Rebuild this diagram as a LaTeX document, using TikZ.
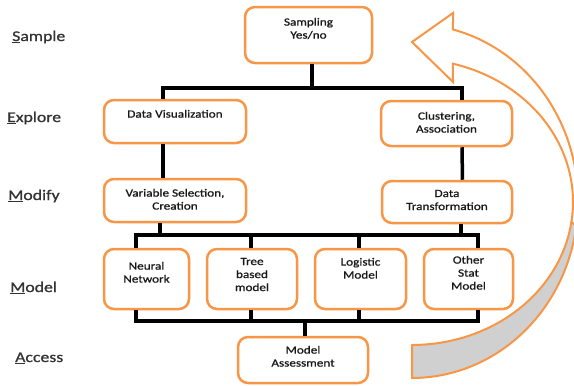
\documentclass[tikz,border=0pt]{standalone}
\usepackage{fontspec}
\setmainfont{Carlito}[FakeStretch=1.2]
\newfontfamily\stepfont{Carlito}[FakeStretch=1.2, FakeBold=0.9]
\usepackage{tikz}
\usetikzlibrary{positioning}
\usetikzlibrary{calc}
\definecolor{semmaorange}{RGB}{247,150,70}
\definecolor{semmagray}{RGB}{208,208,208}
\tikzset{
    stepbox/.style={draw=semmaorange, line width=2.5pt, rounded corners=10pt, fill=white},
    steptext/.style={font=\stepfont\fontsize{11}{13}\selectfont, text=black!90, align=center, inner sep=0pt},
    stage/.style={font=\stepfont\fontsize{14.8}{17}\selectfont, text=black!80, anchor=base west, inner sep=0pt},
    link/.style={line width=3.5pt, black},
}

\begin{document}
\begin{tikzpicture}[x=1pt, y=-1pt]

        \useasboundingbox (0,0) rectangle (574,386);
        \clip (0,0) rectangle (574,386);

        % Return arrow, back side
        \filldraw[fill=semmagray, draw=semmaorange, line width=2pt, line join=round]
            plot[domain=-8:-90, samples=40] ({412+161*cos(\x)}, {202-143*sin(\x)})
            -- plot[domain=-90:-8, samples=40] ({412+166*cos(\x)}, {201-177*sin(\x)}) -- cycle;

        % Return arrow, front side
        \filldraw[fill=white, draw=semmaorange, line width=2pt]
            (412,42) -- (453,13)
            -- plot[domain=75.7:-8, samples=50] ({412+166*cos(\x)}, {201-177*sin(\x)})
            -- plot[domain=-8:75.25, samples=50] ({412+161*cos(\x)}, {202-143*sin(\x)})
            -- (453,82) -- cycle;

        % Stages
        \foreach \i/\x/\y/\first/\rest in {1/12/41/S/ample, 2/7/122/E/xplore, 3/8/200/M/odify, 4/10/292/M/odel, 5/15/362/A/ccess}
        {
            \node[stage] (Stage-\i) at (\x,\y) {\underline{\first}\rest};
        }

        % Sample
        \node[stepbox, minimum width=127pt, minimum height=56pt] (Sampling) at (308.5,35) {};
        \node[steptext, below=12pt of Sampling.north] (Sampling-txt) {Sampling\\Yes/no};

        % Explore
        \node[stepbox, minimum width=142pt, minimum height=43pt] (Visual) at (175,121.5) {};
        \node[steptext, below=11pt of Visual.north] (Visual-txt) {Data Visualization};
        \node[stepbox, minimum width=131pt, minimum height=45pt] (Cluster) at (446.5,123.5) {};
        \node[steptext, below=12pt of Cluster.north] (Cluster-txt) {Clustering,\\Association};

        % Modify
        \node[stepbox, minimum width=142pt, minimum height=43pt] (Select) at (175,200.5) {};
        \node[steptext, below=11pt of Select.north] (Select-txt) {Variable Selection,\\Creation};
        \node[stepbox, minimum width=130pt, minimum height=42pt] (Transf) at (447,202) {};
        \node[steptext, below=10pt of Transf.north] (Transf-txt) {Data\\Transformation};

        % Model
        \foreach \i/\x/\w/\d/\off/\txt in {1/146.5/85/136/14/{Neural\\Network}, 2/252/90/251/10/{Tree\\based\\model}, 3/360.5/91/359/10/{Logistic\\Model}, 4/468.5/89/478/8/{Other\\Stat\\Model}}
        {
            \node[stepbox, minimum width=\w pt, minimum height=60pt] (Model-\i) at (\x,279) {};
            \node[steptext, below=\off pt of Model-\i.north] (Model-\i-txt) {\txt};
            \coordinate (Drop-\i) at (\d,0);
        }

        % Access
        \node[stepbox, minimum width=130pt, minimum height=46pt] (Assess) at (303,360) {};
        \node[steptext, below=10pt of Assess.north] (Assess-txt) {Model\\Assessment};

        % Bus levels
        \coordinate (Bus-top) at (0,88);
        \coordinate (Bus-mid) at (0,235);
        \coordinate (Bus-low) at (0,321);
        \coordinate (Sampling-s) at ([xshift=3.5pt]Sampling.south);
        \coordinate (Visual-n) at ([xshift=-12pt]Visual.north);
        \coordinate (Cluster-n) at ([xshift=15.5pt]Cluster.north);
        \coordinate (Select-s) at ([xshift=-15pt]Select.south);
        \coordinate (Transf-s) at ([xshift=14pt]Transf.south);
        \coordinate (Assess-n) at ([xshift=2pt]Assess.north);

        % Connect Sample-Explore
        \draw[link] (Sampling-s) -- (Sampling-s |- Bus-top);
        \draw[link] (Visual-n) |- (Cluster-n |- Bus-top) -- (Cluster-n);

        % Connect Explore-Modify
        \draw[link] ([xshift=-12pt]Visual.south) -- ([xshift=-12pt]Select.north);
        \draw[link] ([xshift=15.5pt]Cluster.south) -- ([xshift=15.5pt]Transf.north);

        % Connect Modify-Model
        \draw[link] (Select-s) -- (Select-s |- Bus-mid);
        \draw[link] (Transf-s) -- (Transf-s |- Bus-mid);
        \draw[link] (Drop-1 |- Model-1.north) -- (Drop-1 |- Bus-mid) -- (Drop-4 |- Bus-mid) -- (Drop-4 |- Model-4.north);
        \foreach \i in {2,3}
        {
            \draw[link] (Drop-\i |- Bus-mid) -- (Drop-\i |- Model-\i.north);
        }

        % Connect Model-Access
        \draw[link] (Drop-1 |- Model-1.south) -- (Drop-1 |- Bus-low) -- (Drop-4 |- Bus-low) -- (Drop-4 |- Model-4.south);
        \foreach \i in {2,3}
        {
            \draw[link] (Drop-\i |- Model-\i.south) -- (Drop-\i |- Bus-low);
        }
        \draw[link] (Assess-n |- Bus-low) -- (Assess-n);

    \end{tikzpicture}
\end{document}
